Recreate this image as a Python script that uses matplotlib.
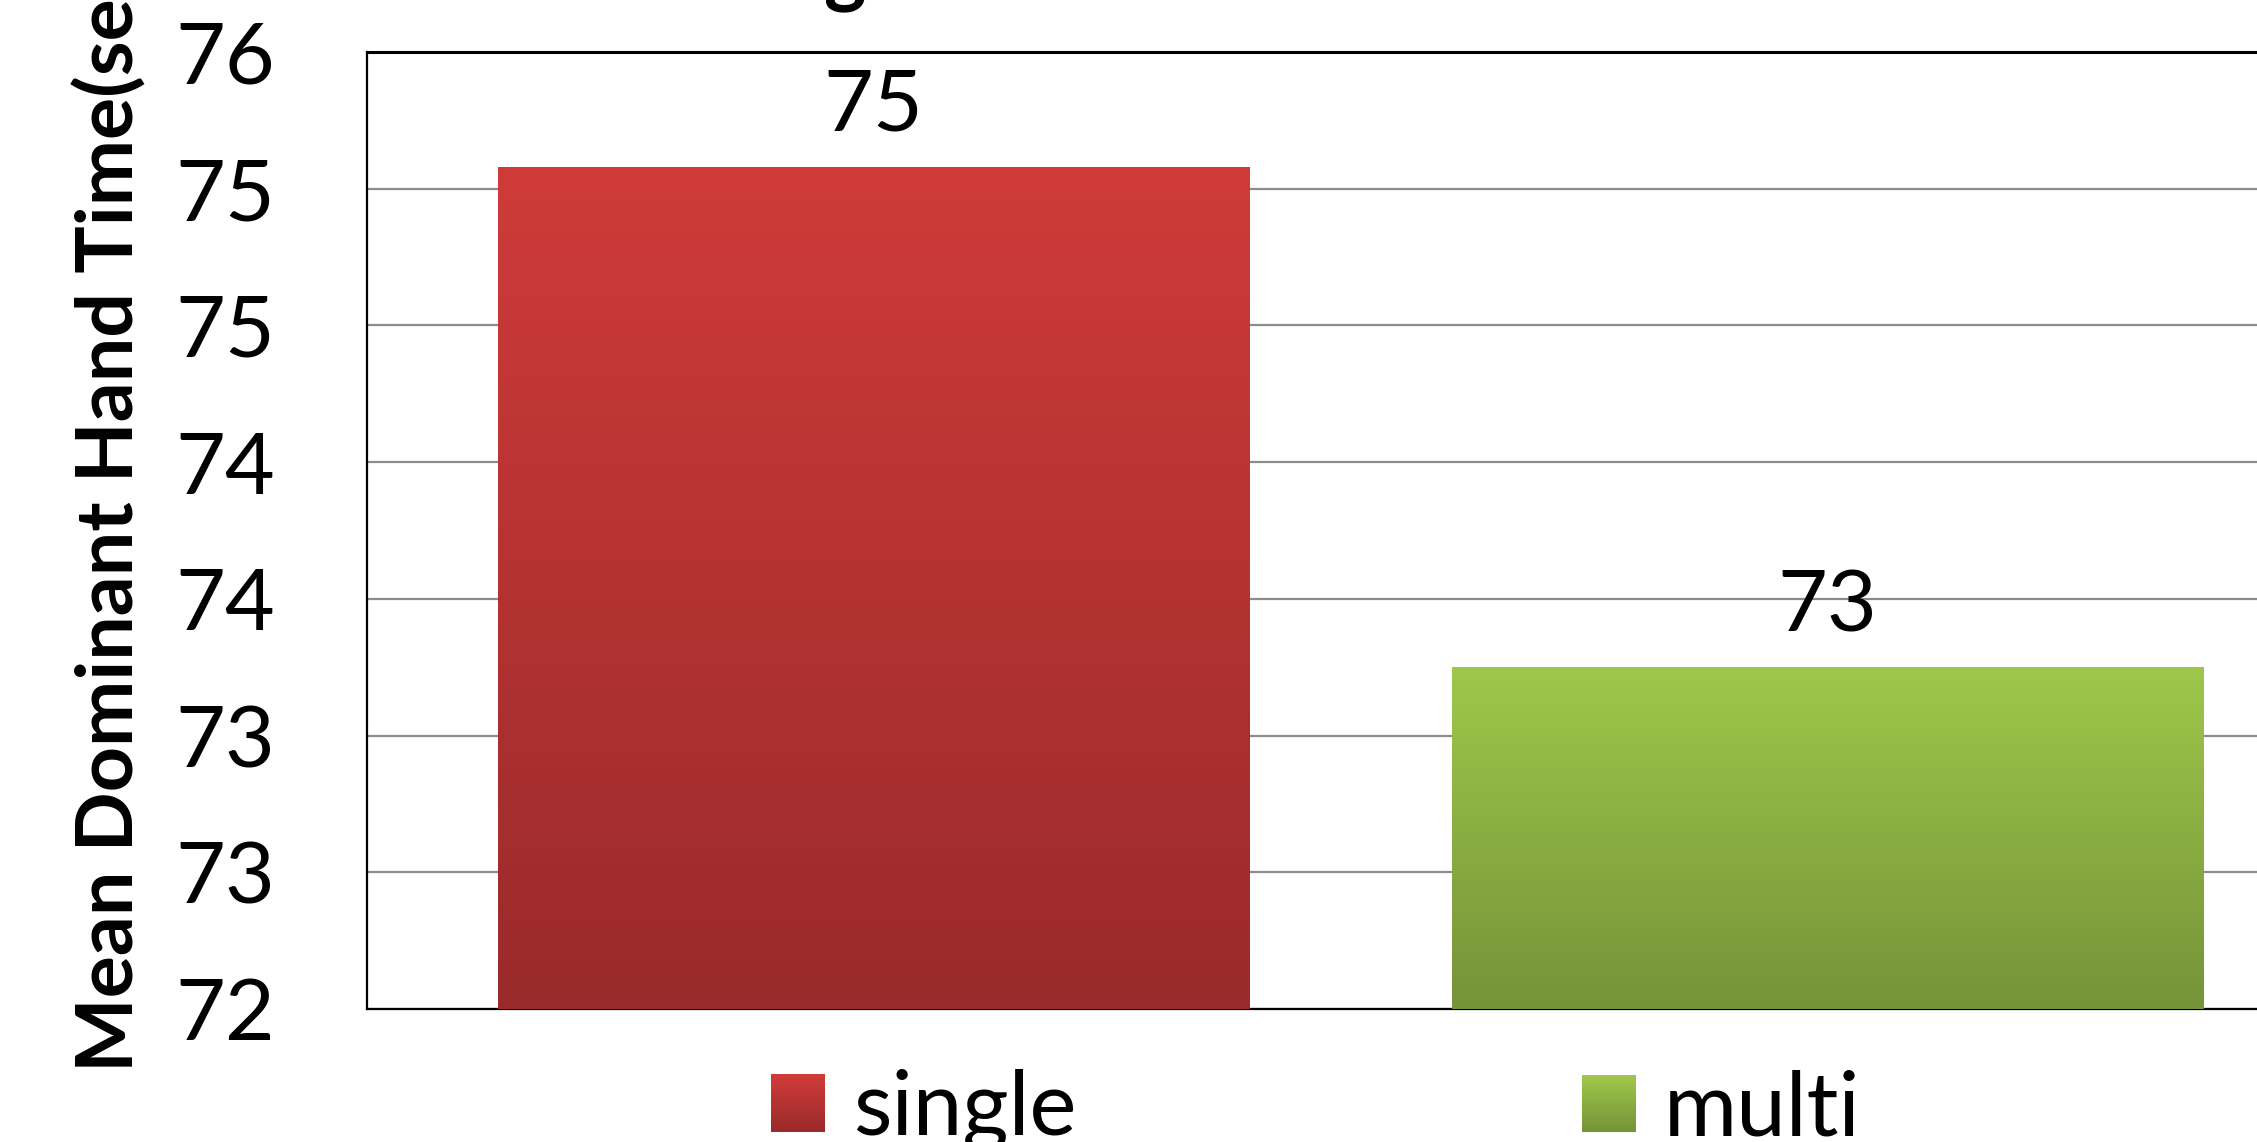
import numpy as np
import matplotlib
matplotlib.use("Agg")
import matplotlib.pyplot as plt
from matplotlib.ticker import FuncFormatter, MultipleLocator
from matplotlib.patches import Patch, Rectangle
from matplotlib.colors import LinearSegmentedColormap
from matplotlib.legend_handler import HandlerBase

# ---- data ----
categories = ["single", "multi"]
values = [75.08, 73.25]
ylabel_text = "Mean Dominant Hand Time(sec)"
y_min, y_max, y_step = 72, 75.5, 0.5

# ---- style ----
top_colors = ["#CF3B39", "#9FC74B"]
bottom_colors = ["#9A2A2B", "#759338"]
FONT = "Lato"
plt.rcParams["font.family"] = [FONT, "DejaVu Sans"]

W, H = 2257, 1142
fig = plt.figure(figsize=(W / 100, H / 100), dpi=100)

ax_left, ax_right, ax_top, ax_bottom = 367, 2257, 52, 1009
ax = fig.add_axes([ax_left / W, 1 - ax_bottom / H, (ax_right - ax_left) / W, (ax_bottom - ax_top) / H])

x = np.arange(len(categories))
bars = ax.bar(x, [v - y_min for v in values], bottom=y_min, width=0.788,
              color=top_colors, zorder=3, linewidth=0)

cmaps = [LinearSegmentedColormap.from_list(f"g{i}", [cb, ct])
         for i, (ct, cb) in enumerate(zip(top_colors, bottom_colors))]

# gradient fills clipped to bars
for b, cmap in zip(bars, cmaps):
    grad = np.linspace(0, 1, 256).reshape(-1, 1)
    bx, by, bw, bh = b.get_x(), b.get_y(), b.get_width(), b.get_height()
    im = ax.imshow(grad, cmap=cmap, extent=(bx, bx + bw, by, by + bh), origin="lower",
                   aspect="auto", zorder=4, interpolation="bicubic")
    im.set_clip_path(b)

ax.set_xlim(-0.531, 1.450)
ax.set_ylim(y_min, y_max)
ax.yaxis.set_major_locator(MultipleLocator(y_step))
ax.yaxis.set_major_formatter(FuncFormatter(lambda v, p: f"{int(np.floor(v + 0.5 + 1e-9))}"))
ax.set_xticks([])
ax.tick_params(axis="y", length=0, pad=66, labelsize=62)

ax.grid(axis="y", color="#8C8C8C", linewidth=1.6, zorder=1)
ax.set_axisbelow(True)
ax.spines["right"].set_visible(False)
for s in ["left", "top", "bottom"]:
    ax.spines[s].set_color("black")
    ax.spines[s].set_linewidth(1.6)
ax.spines["top"].set_linewidth(2.2)

# data labels
for b, v in zip(bars, values):
    ax.annotate(f"{int(np.floor(v + 0.5))}", xy=(b.get_x() + b.get_width() / 2, b.get_y() + b.get_height()),
                xytext=(0, 26), textcoords="offset points", ha="center", va="baseline",
                fontsize=62, color="black", zorder=5)

# y label (bold, rotated), start anchored at bottom
yl = fig.text(110 / W, 1 - 1072 / H, ylabel_text, rotation=90, rotation_mode="anchor",
              ha="left", va="center", fontsize=58, fontweight="bold", color="black")
fig.canvas.draw()
probe = fig.text(0, 0, "Mean Dominant Hand Time(", fontsize=58, fontweight="bold")
r = fig.canvas.get_renderer()
wpx = probe.get_window_extent(r).width
probe.remove()
yl.set_fontsize(58 * 997 / wpx)

# clipped title descender
fig.text(845 / W, 1 + 3 / H, "g", ha="center", va="baseline", fontsize=58, fontweight="bold")


class GradientHandler(HandlerBase):
    def __init__(self, cmap, n=40):
        super().__init__()
        self.cmap = cmap
        self.n = n

    def create_artists(self, legend, orig_handle, xdescent, ydescent, width, height, fontsize, trans):
        arts = []
        for k in range(self.n):
            y0 = -ydescent + height * k / self.n
            r = Rectangle((-xdescent, y0), width, height / self.n + 0.3,
                          facecolor=self.cmap(k / (self.n - 1)), edgecolor="none",
                          transform=trans)
            arts.append(r)
        return arts


# legends (one per category, positioned under the plot)
leg_x = [771, 1582]
for i, c in enumerate(categories):
    h = Patch(facecolor=top_colors[i], edgecolor="none", label=c)
    leg = fig.legend(handles=[h], loc="center left", bbox_to_anchor=(leg_x[i] / W, 1 - 1110 / H),
                     frameon=False, fontsize=64, handlelength=0.61, handleheight=0.61,
                     handletextpad=0.31, borderpad=0, borderaxespad=0,
                     handler_map={h: GradientHandler(cmaps[i])})

fig.savefig("out.png", dpi=100)
